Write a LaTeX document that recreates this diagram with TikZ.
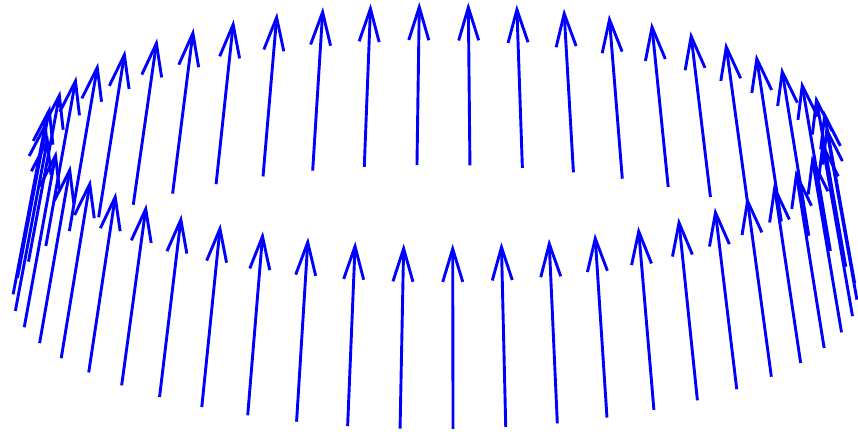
\documentclass[tikz,border=0pt]{standalone}
\usetikzlibrary{arrows.meta}
\definecolor{vecblue}{RGB}{0,0,255}
\tikzset{
  vec/.style={draw=vecblue, line width=2.9pt, line cap=butt,
    -{Straight Barb[length=33pt,width=20pt,line join=miter]}}
}
\begin{document}
\begin{tikzpicture}[x=1pt,y=1pt]
\useasboundingbox (0,0) rectangle (858,431);
\foreach \m in {0,...,49}{
  \pgfmathsetmacro\ps{7.2*\m-1.15}
  \coordinate (t\m) at ({435+422*cos(\ps)},{134+132*sin(\ps)});
  \coordinate (h\m) at ({436+390*cos(\ps)},{308+121*sin(\ps)});
  \draw[vec] (t\m) -- (h\m);
}
\end{tikzpicture}
\end{document}
